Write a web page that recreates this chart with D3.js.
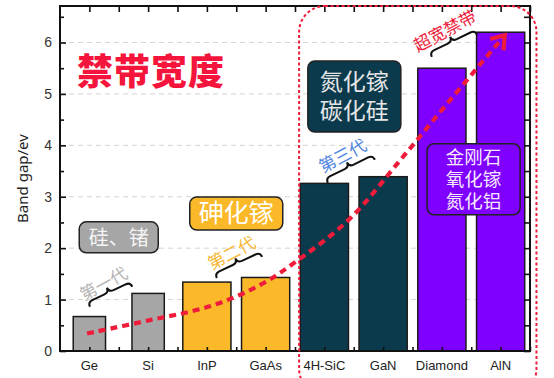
<!DOCTYPE html>
<html><head><meta charset="utf-8">
<script src="https://cdn.jsdelivr.net/npm/d3@7"></script>
<style>
html,body{margin:0;padding:0;background:#fff;}
svg{display:block;font-family:"Noto Sans","Noto Sans CJK SC",sans-serif;}
</style></head>
<body><svg id="c" width="554" height="378"></svg>
<script>
// ---- data ----
const categories = ["Ge","Si","InP","GaAs","4H-SiC","GaN","Diamond","AlN"];
const bandGap    = [0.67, 1.12, 1.34, 1.43, 3.26, 3.39, 5.50, 6.20];
const generation = [1, 1, 2, 2, 3, 3, 4, 4];
const yTicks     = [0, 1, 2, 3, 4, 5, 6];
const yLabel     = "Band gap/ev";
const title      = "禁带宽度";
// trend curve, in (category index, band gap) units
const trendIdx   = [-0.04, 1.03, 2.05, 2.90, 3.59, 4.44, 5.29, 6.14, 7.07];
const trendVal   = [0.34, 0.60, 0.87, 1.28, 1.80, 2.58, 3.71, 4.88, 6.14];
// generation labels
const genLabels  = ["第一代","第二代","第三代","超宽禁带"];
const boxLabels  = [["硅、锗"],["砷化镓"],["氮化镓","碳化硅"],["金刚石","氧化镓","氮化铝"]];

// ---- styles ----
const genStyle = {
  1:{fill:"#a6a6a6", wf:0.55, label:"#b4b4b4", boxText:"#f4f4f4", font:20, lh:26},
  2:{fill:"#fbb829", wf:0.82, label:"#f6b634", boxText:"#ffffff", font:25, lh:30},
  3:{fill:"#0c3a4d", wf:0.82, label:"#4f84e0", boxText:"#e6e6e6", font:23, lh:29},
  4:{fill:"#7f00ff", wf:0.82, label:"#ee1c3a", boxText:"#f6eaff", font:18.5, lh:22}
};
// annotation placement (category index, value) + pixel sizes
const braceAnchors = [[0.01,0.86,0.73,1.25],[2.17,1.42,2.94,1.83],[4.06,3.27,4.86,3.72],[5.83,5.72,6.60,6.15]];
const labelAnchors = [[0.23,1.33],[2.41,1.93],[4.30,3.82],[6.04,6.25]];
const boxAnchors   = [[0.50,2.21,79,31],[2.50,2.675,93,33],[4.51,4.95,93,71],[6.54,3.34,93,71]];

const W=554,H=378, L=60,R=530,T=6,B=351;
const svg=d3.select("#c");
const x=d3.scaleBand().domain(categories).range([L,R]).padding(0);
const xi=d3.scaleLinear().domain([-0.5,categories.length-0.5]).range([L,R]);
const y=d3.scaleLinear().domain([0,6.71]).range([B,T]);
const red="#ee1c3a";

// grid
svg.append("g").selectAll("line").data(yTicks.filter(d=>d>0)).join("line")
  .attr("x1",L).attr("x2",R).attr("y1",d=>y(d)).attr("y2",d=>y(d))
  .attr("stroke","#d4d4d4").attr("stroke-width",1).attr("stroke-dasharray","5,4");

// bars
svg.append("g").selectAll("rect").data(categories).join("rect")
  .attr("x",(d,i)=>x(d)+x.bandwidth()*(1-genStyle[generation[i]].wf)/2)
  .attr("width",(d,i)=>x.bandwidth()*genStyle[generation[i]].wf)
  .attr("y",(d,i)=>y(bandGap[i]))
  .attr("height",(d,i)=>y(0)-y(bandGap[i]))
  .attr("fill",(d,i)=>genStyle[generation[i]].fill)
  .attr("stroke","#1a1a1a").attr("stroke-width",1.5);

// axes
const half=d3.range(0,categories.length-0.5+0.01,0.5).filter(v=>v<=categories.length-0.5);
const yAll=d3.range(0,6.51,0.5);
const ax=svg.append("g").attr("class","axes");
ax.append("g").attr("transform",`translate(${L},0)`)
  .call(d3.axisLeft(y).tickValues(yTicks).tickSize(-6).tickPadding(8).tickFormat(d3.format("d")))
  .call(g=>{g.select(".domain").remove();g.selectAll("line").attr("stroke","#111").attr("stroke-width",1.6);
    g.selectAll("text").attr("font-size",14).attr("fill","#333");});
ax.append("g").attr("transform",`translate(${L},0)`)
  .call(d3.axisLeft(y).tickValues(yAll.filter(v=>v%1!==0)).tickSize(-4).tickFormat(""))
  .call(g=>{g.select(".domain").remove();g.selectAll("line").attr("stroke","#111").attr("stroke-width",1.6);});
ax.append("g").attr("transform",`translate(${R},0)`)
  .call(d3.axisRight(y).tickValues(yAll).tickSize(-6).tickFormat(""))
  .call(g=>{g.select(".domain").remove();g.selectAll("line").attr("stroke","#111").attr("stroke-width",1.6);});
ax.append("g").attr("transform",`translate(0,${T})`)
  .call(d3.axisTop(xi).tickValues(half).tickSize(-6).tickFormat(""))
  .call(g=>{g.select(".domain").remove();g.selectAll("line").attr("stroke","#111").attr("stroke-width",1.6);});
ax.append("g").attr("transform",`translate(0,${B})`)
  .call(d3.axisBottom(xi).tickValues(half).tickSize(-4).tickFormat(""))
  .call(g=>{g.select(".domain").remove();g.selectAll("line").attr("stroke","#111").attr("stroke-width",1.6);});
ax.append("g").attr("transform",`translate(0,${B})`)
  .call(d3.axisBottom(x).tickSize(0).tickPadding(10))
  .call(g=>{g.select(".domain").remove();g.selectAll("text").attr("font-size",13).attr("fill","#222");});
svg.append("rect").attr("x",L).attr("y",T).attr("width",R-L).attr("height",B-T)
  .attr("fill","none").attr("stroke","#111").attr("stroke-width",2);

// y label
svg.append("text").attr("transform",`translate(24,${(T+B)/2}) rotate(-90)`)
  .attr("text-anchor","middle").attr("dominant-baseline","middle")
  .attr("font-size",15).attr("fill","#222").text(yLabel);

// title
svg.append("text").attr("x",xi(1.05)).attr("y",y(5.17))
  .attr("text-anchor","middle").attr("font-size",36).attr("font-weight",900)
  .attr("font-family","'Noto Sans CJK SC',sans-serif").attr("fill","#f5153c")
  .attr("letter-spacing",1).text(title);

// boxes (multi-line text as one text element with tspans)
boxAnchors.forEach((b,k)=>{
  const st=genStyle[k+1];
  const cx=xi(b[0]), cy=y(b[1]);
  const g=svg.append("g");
  g.append("rect").attr("x",cx-b[2]/2).attr("y",cy-b[3]/2).attr("width",b[2]).attr("height",b[3])
    .attr("rx",7).attr("fill",st.fill).attr("stroke","#222").attr("stroke-width",1.5);
  const lines=boxLabels[k];
  const t=g.append("text").attr("text-anchor","middle")
    .attr("font-family","'Liberation Sans','Noto Sans CJK SC',sans-serif").attr("font-size",st.font)
    .attr("fill",st.boxText);
  lines.forEach((s,j)=>{
    t.append("tspan").attr("x",cx)
      .attr("y",cy+(j-(lines.length-1)/2)*st.lh+st.font*0.36).text(s);
  });
});

// trend curve
const pts=trendIdx.map((v,i)=>[xi(v),y(trendVal[i])]);
svg.append("path").attr("d",d3.line().curve(d3.curveCatmullRom)(pts))
  .attr("fill","none").attr("stroke",red).attr("stroke-width",4.2).attr("stroke-dasharray","7,5");
{
  const p1=pts[pts.length-1], p0=pts[pts.length-2];
  const a=Math.atan2(p1[1]-p0[1],p1[0]-p0[0]);
  const len=15, sp=0.62;
  const l1=[p1[0]-len*Math.cos(a-sp),p1[1]-len*Math.sin(a-sp)];
  const l2=[p1[0]-len*Math.cos(a+sp),p1[1]-len*Math.sin(a+sp)];
  svg.append("path").attr("d",`M${l1}L${p1}L${l2}`).attr("fill","none")
    .attr("stroke",red).attr("stroke-width",4.2).attr("stroke-linejoin","miter");
}

// braces
function bracePath(Lb,h){
  const m=Lb/2, q=h/2;
  return `M0,0 Q0,${-q} ${q},${-q} L${m-q},${-q} Q${m},${-q} ${m},${-h} Q${m},${-q} ${m+q},${-q} L${Lb-q},${-q} Q${Lb},${-q} ${Lb},0`;
}
braceAnchors.forEach(b=>{
  const x0=xi(b[0]),y0=y(b[1]),x1=xi(b[2]),y1=y(b[3]);
  const Lb=Math.hypot(x1-x0,y1-y0), ang=Math.atan2(y1-y0,x1-x0)*180/Math.PI;
  svg.append("path").attr("d",bracePath(Lb,10))
    .attr("transform",`translate(${x0},${y0}) rotate(${ang})`)
    .attr("fill","none").attr("stroke","#111").attr("stroke-width",2);
});
labelAnchors.forEach((a,k)=>{
  svg.append("text").attr("transform",`translate(${xi(a[0])},${y(a[1])}) rotate(-28)`)
    .attr("text-anchor","middle").attr("dominant-baseline","central")
    .attr("font-family","'Noto Sans CJK SC',sans-serif").attr("font-size",17)
    .attr("fill",genStyle[k+1].label).text(genLabels[k]);
});

// highlight region
svg.append("rect").attr("x",xi(3.57)).attr("y",T).attr("width",xi(7.61)-xi(3.57)).attr("height",395-T)
  .attr("rx",26).attr("fill","none").attr("stroke",red).attr("stroke-width",2).attr("stroke-dasharray","3,2.5");
</script></body></html>
